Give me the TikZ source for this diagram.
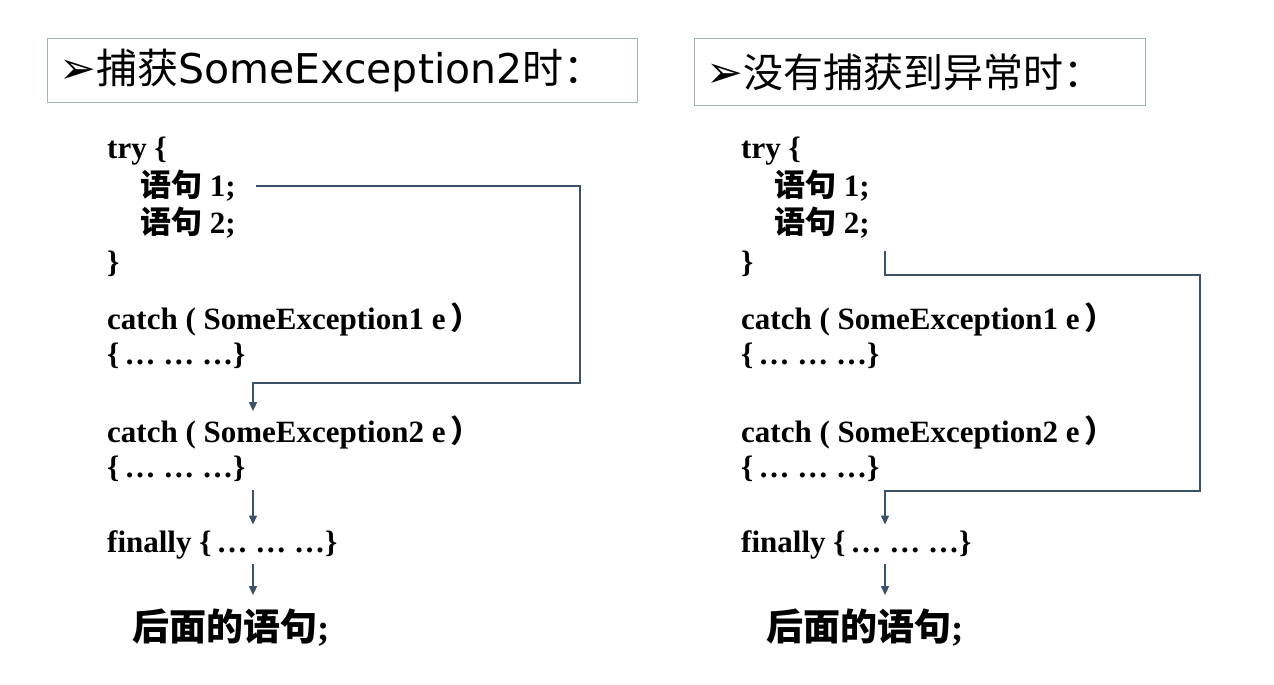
\documentclass[tikz,border=0pt]{standalone}
\usepackage{fontspec}
\setmainfont{Liberation Serif}
\newfontfamily\cjk{Noto Sans CJK SC}
\newfontfamily\wide{DejaVu Sans}
\usetikzlibrary{arrows.meta}
\definecolor{flowline}{HTML}{3B5368}
\definecolor{boxline}{HTML}{A3B5AF}
\newcommand{\zh}[1]{{\cjk #1}}
\newcommand{\blockdots}{\,\ldots\ \ldots\ \ldots}
\newcommand{\pointer}{{\wide\fontsize{44}{44}\selectfont\char"27A2}}
\begin{document}
\begin{tikzpicture}[x=1pt,y=-1pt,
  code/.style={anchor=west,inner sep=0pt,font=\fontsize{31}{31}\selectfont\bfseries},
  titlebox/.style={draw=boxline,line width=1.2pt,anchor=north west,inner xsep=12pt,inner ysep=0pt,align=left},
  flow/.style={draw=flowline,line width=1.6pt},
  down/.style={flow,-{Triangle[length=9pt,width=8pt]}}]
\useasboundingbox (0,0) rectangle (1274,685);
% titles
\node[titlebox,text width=566pt,minimum height=64pt,font=\fontsize{41}{41}\selectfont\cjk] (l-title) at (47,38)
   {\pointer 捕获{\wide SomeException2}时：};
\node[titlebox,text width=427pt,minimum height=67pt,font=\fontsize{40}{40}\selectfont\cjk] (r-title) at (694,38)
   {\pointer 没有捕获到异常时：};
% the two code columns
\foreach \side/\x in {l/107,r/741} {
   \node[code] (\side-try) at (\x,151) {try \{};
   \node[code] (\side-s1) at (\x+33,186) {\zh{语句} 1;};
   \node[code] (\side-s2) at (\x+33,223) {\zh{语句} 2;};
   \node[code] (\side-close) at (\x,264) {\}};
   \node[code] (\side-c1) at (\x,319) {catch ( SomeException1 e\,\zh{）}};
   \node[code] (\side-b1) at (\x,356) {\{\blockdots\}};
   \node[code] (\side-c2) at (\x,432) {catch ( SomeException2 e\,\zh{）}};
   \node[code] (\side-b2) at (\x,469) {\{\blockdots\}};
   \node[code] (\side-fin) at (\x,545) {finally \{\blockdots\}};
   \node[code,font=\fontsize{37}{37}\selectfont\bfseries] (\side-after) at (\x+25,628) {\zh{后面的语句};};
}
\coordinate (l-axis) at (253,0);
\coordinate (r-axis) at (885,0);
% caught by the second catch
\coordinate (l-turn) at (580,383);
\draw[down] ([xshift=20pt]l-s1.east) -| (l-turn) -| ([yshift=4pt]l-c2.north -| l-axis);
% nothing caught
\coordinate (r-turnA) at (1200,275);
\coordinate (r-turnB) at (1200,491);
\draw[down] ([yshift=-12pt]r-s2.south -| r-axis) |- (r-turnA) -- (r-turnB) -| ([yshift=6pt]r-fin.north -| r-axis);
% straight steps
\draw[down] ([yshift=-8pt]l-b2.south -| l-axis) -- ([yshift=6pt]l-fin.north -| l-axis);
\foreach \side in {l,r}
   \draw[down] ([yshift=-5pt]\side-fin.south -| \side-axis) -- ([yshift=14pt]\side-after.north -| \side-axis);
\end{tikzpicture}
\end{document}
